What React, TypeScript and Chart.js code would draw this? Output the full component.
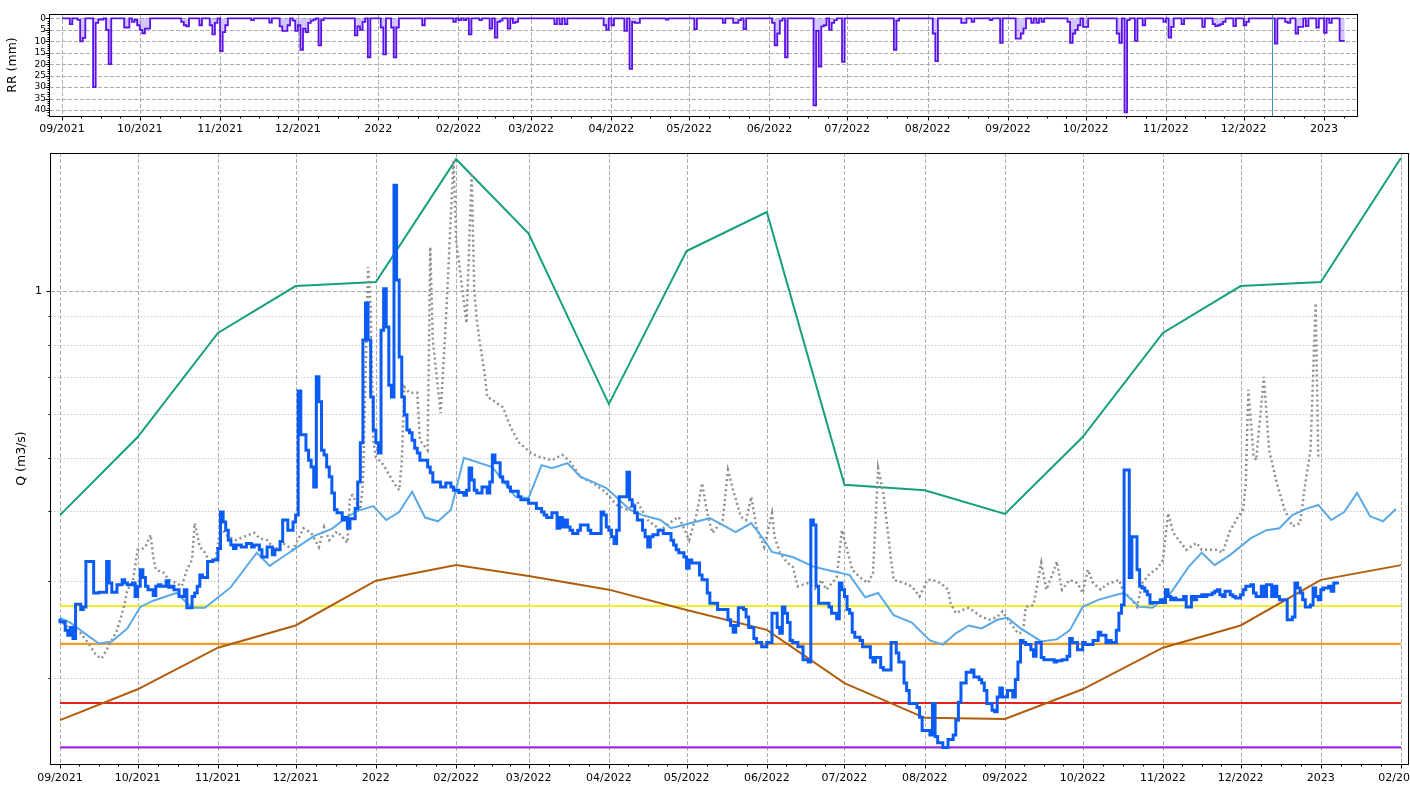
import React, { useEffect, useRef } from 'react';
import { Chart, registerables } from 'chart.js';

Chart.register(...registerables);

const FONT = "'DejaVu Sans', 'Liberation Sans', sans-serif";

// x values everywhere are days since 1 Sep 2021
const monthStartDays = [0, 30, 61, 91, 122, 153, 181, 212, 242, 273, 303, 334, 365, 395, 426, 456, 487, 518];
const monthTickLabels = ['09/2021', '10/2021', '11/2021', '12/2021', '2022', '02/2022', '03/2022', '04/2022', '05/2022', '06/2022', '07/2022', '08/2022', '09/2022', '10/2022', '11/2022', '12/2022', '2023', '02/2023'];
const monthEdgesForMinor = [-31, ...monthStartDays, 546];

// rainfall (mm), days with rain only
const rainDay = [4, 7, 8, 9, 13, 14, 15, 16, 18, 19, 25, 26, 28, 29, 30, 31, 32, 33, 34, 47, 48, 49, 54, 58, 59, 60, 62, 63, 64, 74, 81, 85, 86, 87, 88, 90, 91, 92, 93, 94, 95, 96, 97, 98, 100, 101, 114, 115, 116, 117, 119, 124, 125, 128, 129, 130, 140, 152, 154, 156, 158, 162, 166, 168, 169, 170, 173, 175, 176, 191, 193, 195, 210, 211, 213, 218, 220, 221, 222, 223, 234, 245, 256, 260, 261, 262, 264, 275, 276, 277, 278, 280, 291, 292, 293, 294, 295, 297, 298, 299, 302, 322, 323, 337, 338, 348, 349, 352, 359, 363, 369, 370, 371, 372, 375, 377, 379, 389, 390, 391, 392, 393, 395, 396, 408, 409, 411, 412, 415, 418, 426, 428, 429, 433, 441, 445, 446, 447, 448, 449, 453, 457, 458, 469, 473, 474, 477, 478, 479, 481, 485, 488, 490, 494];
const rainMm = [2.5, 0.7, 10, 8.5, 30, 2, 0.5, 0.5, 5, 20, 4, 4, 1.5, 0.7, 3, 5, 6.5, 4.5, 4.5, 1.5, 3, 3.5, 3, 3, 7, 2, 14.3, 6, 3, 0.8, 1.8, 3.5, 5.5, 5.5, 3, 1, 5.5, 3, 13.7, 4.5, 6, 2, 1, 0.5, 11.8, 0.8, 7.4, 3.5, 5, 1.5, 17, 4, 15.7, 4, 17, 4, 3, 1.5, 0.8, 0.8, 7, 0.8, 4.5, 8.4, 1.5, 1, 4.5, 2, 1.5, 2.5, 2.5, 2.5, 3, 5, 3, 5.5, 22, 1.5, 2, 2, 0.5, 4.7, 2, 2, 2, 0.8, 4.7, 2, 11.8, 6.6, 1, 17, 38, 5.5, 21, 3.5, 3, 5, 2, 0.8, 19, 13.7, 1, 6.6, 18.7, 2, 2, 1.5, 0.8, 10.7, 8.8, 8.8, 6.6, 4.4, 2, 2, 1.5, 1.5, 10.7, 6.6, 5, 3, 3.7, 3.7, 6.6, 10.7, 41, 0.8, 9.8, 3, 1.5, 8.4, 3.7, 2.5, 3.7, 2.5, 3.4, 3, 2.5, 1.5, 3.4, 3, 1.5, 11, 1.5, 2, 6.6, 3.7, 3.7, 3.4, 4, 6.3, 2, 9.8];
const rainFirstDay = 0;
const rainLastDay = 495;
const rainTicks = [0, 5, 10, 15, 20, 25, 30, 35, 40];
const markerDay = 467; // vertical marker in the rain panel

// observed daily discharge (m3/s)
const obsDay = [0, 2, 3, 4, 5, 6, 8, 9, 10, 13, 15, 18, 19, 20, 22, 24, 25, 26, 28, 29, 30, 31, 32, 33, 34, 36, 37, 38, 39, 41, 42, 43, 44, 46, 48, 49, 51, 52, 53, 54, 55, 57, 59, 61, 62, 63, 64, 65, 66, 67, 68, 70, 72, 74, 75, 77, 78, 80, 82, 83, 85, 86, 88, 90, 91, 92, 93, 95, 96, 97, 98, 99, 100, 101, 102, 103, 104, 105, 106, 107, 109, 110, 111, 112, 114, 115, 116, 117, 118, 119, 120, 121, 122, 123, 124, 125, 126, 127, 128, 129, 130, 131, 132, 133, 134, 135, 136, 137, 138, 139, 142, 143, 144, 147, 149, 151, 152, 154, 156, 157, 158, 159, 160, 161, 163, 165, 166, 167, 168, 170, 171, 173, 174, 177, 178, 181, 184, 186, 187, 188, 190, 192, 193, 194, 195, 196, 197, 198, 200, 201, 204, 205, 209, 210, 211, 212, 213, 214, 215, 216, 219, 220, 221, 222, 223, 225, 226, 227, 228, 229, 231, 233, 236, 237, 238, 239, 241, 242, 243, 244, 247, 248, 250, 251, 254, 255, 258, 259, 260, 261, 262, 264, 265, 266, 268, 269, 271, 273, 275, 277, 278, 279, 280, 281, 282, 283, 285, 287, 289, 290, 291, 292, 293, 294, 297, 298, 300, 301, 302, 303, 304, 305, 306, 307, 309, 310, 311, 313, 314, 315, 317, 318, 321, 322, 323, 324, 326, 327, 328, 331, 332, 333, 336, 337, 338, 339, 341, 343, 345, 346, 347, 348, 350, 352, 353, 355, 356, 357, 358, 360, 361, 362, 363, 364, 366, 368, 369, 370, 371, 372, 373, 375, 376, 377, 379, 380, 384, 385, 387, 389, 390, 391, 392, 393, 395, 396, 399, 401, 402, 404, 405, 406, 408, 409, 410, 411, 412, 413, 414, 415, 416, 417, 418, 419, 420, 421, 422, 425, 426, 427, 428, 429, 430, 431, 434, 435, 437, 438, 439, 441, 442, 443, 445, 446, 447, 448, 449, 450, 452, 453, 454, 456, 457, 458, 460, 461, 462, 464, 465, 466, 468, 469, 470, 471, 474, 476, 477, 478, 479, 480, 481, 483, 484, 485, 486, 487, 488, 490, 491, 492, 493, 494];
const obsQ = [0.256, 0.253, 0.244, 0.239, 0.247, 0.236, 0.272, 0.266, 0.269, 0.325, 0.285, 0.286, 0.325, 0.297, 0.286, 0.295, 0.301, 0.297, 0.295, 0.297, 0.281, 0.293, 0.314, 0.304, 0.293, 0.289, 0.282, 0.293, 0.295, 0.293, 0.3, 0.292, 0.293, 0.289, 0.281, 0.289, 0.268, 0.281, 0.285, 0.293, 0.307, 0.304, 0.325, 0.327, 0.343, 0.399, 0.383, 0.37, 0.355, 0.348, 0.343, 0.348, 0.345, 0.35, 0.345, 0.348, 0.341, 0.331, 0.345, 0.334, 0.341, 0.353, 0.386, 0.37, 0.383, 0.394, 0.66, 0.55, 0.516, 0.495, 0.481, 0.443, 0.7, 0.631, 0.516, 0.506, 0.481, 0.462, 0.432, 0.403, 0.398, 0.386, 0.39, 0.373, 0.388, 0.405, 0.452, 0.532, 0.816, 0.951, 0.816, 0.644, 0.561, 0.532, 0.51, 0.85, 1.01, 0.861, 0.676, 0.644, 1.553, 1.047, 0.76, 0.644, 0.598, 0.561, 0.555, 0.538, 0.52, 0.51, 0.495, 0.481, 0.47, 0.452, 0.443, 0.45, 0.443, 0.437, 0.433, 0.428, 0.437, 0.479, 0.456, 0.437, 0.432, 0.443, 0.432, 0.452, 0.506, 0.49, 0.462, 0.452, 0.443, 0.435, 0.425, 0.42, 0.414, 0.405, 0.399, 0.394, 0.39, 0.398, 0.373, 0.39, 0.375, 0.386, 0.375, 0.37, 0.365, 0.37, 0.378, 0.37, 0.365, 0.399, 0.394, 0.375, 0.37, 0.36, 0.35, 0.37, 0.425, 0.471, 0.42, 0.409, 0.398, 0.386, 0.37, 0.36, 0.345, 0.36, 0.363, 0.37, 0.365, 0.355, 0.348, 0.341, 0.337, 0.331, 0.316, 0.327, 0.323, 0.307, 0.301, 0.285, 0.273, 0.266, 0.266, 0.255, 0.249, 0.242, 0.249, 0.268, 0.266, 0.258, 0.247, 0.236, 0.232, 0.228, 0.232, 0.262, 0.247, 0.241, 0.269, 0.262, 0.252, 0.234, 0.232, 0.228, 0.216, 0.214, 0.386, 0.378, 0.293, 0.273, 0.273, 0.269, 0.262, 0.256, 0.297, 0.289, 0.281, 0.266, 0.262, 0.242, 0.237, 0.234, 0.228, 0.228, 0.218, 0.214, 0.218, 0.209, 0.207, 0.232, 0.232, 0.222, 0.214, 0.196, 0.19, 0.18, 0.177, 0.17, 0.161, 0.158, 0.18, 0.157, 0.153, 0.15, 0.155, 0.158, 0.168, 0.181, 0.196, 0.205, 0.207, 0.201, 0.199, 0.196, 0.19, 0.18, 0.175, 0.174, 0.185, 0.192, 0.185, 0.19, 0.185, 0.199, 0.214, 0.234, 0.232, 0.23, 0.225, 0.219, 0.232, 0.218, 0.216, 0.214, 0.215, 0.216, 0.219, 0.236, 0.232, 0.232, 0.225, 0.232, 0.23, 0.234, 0.242, 0.239, 0.232, 0.234, 0.232, 0.244, 0.262, 0.271, 0.475, 0.475, 0.304, 0.36, 0.36, 0.314, 0.293, 0.291, 0.287, 0.283, 0.273, 0.274, 0.277, 0.274, 0.289, 0.281, 0.277, 0.279, 0.277, 0.281, 0.269, 0.281, 0.277, 0.281, 0.283, 0.281, 0.283, 0.285, 0.287, 0.289, 0.283, 0.281, 0.287, 0.283, 0.281, 0.279, 0.283, 0.289, 0.293, 0.295, 0.285, 0.281, 0.293, 0.281, 0.295, 0.281, 0.293, 0.281, 0.277, 0.255, 0.258, 0.297, 0.291, 0.285, 0.277, 0.269, 0.271, 0.291, 0.281, 0.277, 0.289, 0.291, 0.293, 0.287, 0.297, 0.297];

// smoothed mean discharge (light blue)
const meanDay = [0, 4, 9, 15, 20, 26, 31, 36, 45, 51, 56, 66, 76, 81, 86, 93, 98, 105, 111, 115, 121, 126, 131, 136, 141, 146, 151, 156, 167, 176, 181, 186, 190, 196, 201, 206, 211, 216, 220, 225, 232, 236, 251, 261, 267, 272, 275, 283, 291, 296, 305, 311, 316, 322, 329, 336, 341, 346, 351, 356, 362, 366, 371, 379, 385, 390, 395, 401, 408, 411, 417, 422, 429, 436, 441, 446, 452, 460, 466, 471, 476, 481, 486, 491, 496, 501, 506, 511, 516];
const meanQ = [0.257, 0.252, 0.242, 0.231, 0.233, 0.246, 0.269, 0.276, 0.285, 0.268, 0.268, 0.292, 0.337, 0.319, 0.331, 0.348, 0.361, 0.372, 0.391, 0.401, 0.409, 0.386, 0.399, 0.434, 0.39, 0.384, 0.403, 0.5, 0.481, 0.425, 0.423, 0.485, 0.479, 0.489, 0.462, 0.452, 0.441, 0.42, 0.403, 0.394, 0.386, 0.373, 0.389, 0.367, 0.381, 0.355, 0.338, 0.331, 0.318, 0.314, 0.307, 0.28, 0.285, 0.26, 0.252, 0.234, 0.23, 0.241, 0.249, 0.246, 0.255, 0.257, 0.246, 0.233, 0.235, 0.244, 0.269, 0.277, 0.283, 0.285, 0.269, 0.268, 0.285, 0.318, 0.337, 0.32, 0.334, 0.358, 0.37, 0.373, 0.394, 0.404, 0.411, 0.386, 0.399, 0.432, 0.392, 0.384, 0.404];

// simulated discharge (grey dotted)
const simDay = [1, 3, 8, 11, 14, 16, 18, 20, 22, 24, 25, 26, 28, 30, 31, 33, 35, 36, 37, 40, 42, 45, 47, 49, 51, 52, 54, 56, 58, 60, 62, 65, 68, 71, 75, 77, 80, 83, 86, 90, 94, 97, 100, 102, 104, 107, 109, 111, 112, 113, 116, 117, 119, 120, 121, 122, 125, 129, 131, 132, 133, 135, 138, 139, 142, 143, 144, 147, 149, 152, 153, 154, 157, 159, 160, 161, 162, 164, 165, 167, 171, 174, 177, 182, 185, 190, 194, 197, 201, 206, 211, 215, 219, 223, 227, 232, 237, 239, 243, 246, 248, 250, 252, 256, 258, 260, 263, 265, 267, 269, 272, 275, 276, 278, 281, 283, 285, 289, 292, 294, 296, 300, 302, 304, 306, 309, 312, 314, 316, 318, 321, 322, 326, 329, 332, 335, 337, 340, 343, 344, 346, 349, 351, 354, 356, 359, 362, 364, 367, 370, 372, 373, 376, 379, 381, 384, 385, 387, 390, 393, 395, 397, 399, 402, 404, 409, 411, 413, 416, 418, 421, 424, 426, 428, 430, 433, 435, 439, 441, 444, 447, 449, 452, 455, 457, 458, 459, 461, 462, 465, 467, 470, 473, 476, 479, 481, 483, 485, 486];
const simQ = [0.252, 0.247, 0.241, 0.231, 0.22, 0.217, 0.225, 0.234, 0.244, 0.262, 0.273, 0.289, 0.297, 0.341, 0.341, 0.345, 0.363, 0.331, 0.314, 0.31, 0.301, 0.297, 0.293, 0.314, 0.327, 0.381, 0.345, 0.337, 0.323, 0.327, 0.373, 0.36, 0.355, 0.36, 0.366, 0.358, 0.355, 0.341, 0.351, 0.341, 0.373, 0.366, 0.345, 0.375, 0.355, 0.368, 0.36, 0.351, 0.425, 0.428, 0.403, 0.45, 1.105, 0.936, 0.538, 0.502, 0.485, 0.45, 0.437, 0.49, 0.671, 0.655, 0.655, 0.538, 0.516, 1.201, 0.816, 0.602, 0.875, 1.724, 1.236, 1.138, 0.875, 1.633, 1.004, 0.886, 0.816, 0.711, 0.644, 0.636, 0.617, 0.569, 0.534, 0.51, 0.502, 0.495, 0.506, 0.492, 0.462, 0.45, 0.432, 0.411, 0.403, 0.416, 0.386, 0.37, 0.386, 0.391, 0.355, 0.397, 0.45, 0.397, 0.366, 0.386, 0.475, 0.437, 0.391, 0.386, 0.425, 0.375, 0.345, 0.397, 0.36, 0.337, 0.323, 0.318, 0.293, 0.297, 0.289, 0.301, 0.289, 0.304, 0.37, 0.341, 0.314, 0.304, 0.297, 0.309, 0.479, 0.432, 0.327, 0.301, 0.297, 0.293, 0.281, 0.301, 0.301, 0.297, 0.289, 0.273, 0.262, 0.266, 0.268, 0.262, 0.258, 0.255, 0.258, 0.264, 0.252, 0.241, 0.242, 0.269, 0.271, 0.323, 0.289, 0.314, 0.325, 0.289, 0.301, 0.297, 0.285, 0.314, 0.297, 0.289, 0.295, 0.301, 0.285, 0.281, 0.269, 0.297, 0.309, 0.316, 0.327, 0.397, 0.366, 0.351, 0.341, 0.351, 0.341, 0.341, 0.341, 0.337, 0.37, 0.391, 0.403, 0.45, 0.663, 0.506, 0.495, 0.7, 0.516, 0.45, 0.403, 0.376, 0.381, 0.45, 0.516, 0.951, 0.502];

// monthly envelope (green = high, brown = low), at month starts
const monthlyHighQ = [0.394, 0.545, 0.84, 1.021, 1.038, 1.73, 1.27, 0.625, 1.181, 1.389, 0.447, 0.437, 0.396, 0.545, 0.84, 1.021, 1.038, 1.74];
const monthlyLowQ = [0.168, 0.191, 0.227, 0.249, 0.3, 0.32, 0.306, 0.289, 0.2655, 0.2445, 0.196, 0.1696, 0.1688, 0.191, 0.227, 0.249, 0.301, 0.32];

// threshold levels
const thresholdQ = [0.27, 0.2306, 0.1804, 0.15];
const thresholdColors = ['#f2ee2c', '#ef9e22', '#e4211d', '#a02ee0'];

const qMajorTicks = [1];
const qMinorTicks = [0.2, 0.3, 0.4, 0.5, 0.6, 0.7, 0.8, 0.9];

function minorBetween(edges: number[]) {
  const out: number[] = [];
  for (let i = 0; i < edges.length - 1; i++) {
    for (let k = 1; k < 4; k++) out.push(edges[i] + ((edges[i + 1] - edges[i]) * k) / 4);
  }
  return out;
}

type Deco = {
  xMajor: number[];
  xMinor: number[];
  yMajorGrid: number[];
  yMinorGrid: number[];
  yMajorTicks: number[];
  yMinorTicks: number[];
  yTitle: string;
  yTitleX: number;
  vLines?: { value: number; color: string }[];
};

function makeDeco(d: Deco) {
  const inRange = (s: any, v: number) => v >= Math.min(s.min, s.max) && v <= Math.max(s.min, s.max);
  return {
    id: 'deco',
    beforeDatasetsDraw(chart: any) {
      const { ctx, chartArea: a } = chart;
      const xs = chart.scales.x;
      const ys = chart.scales.y;
      ctx.save();
      ctx.beginPath();
      ctx.rect(a.left, a.top, a.right - a.left, a.bottom - a.top);
      ctx.clip();
      ctx.lineWidth = 1;
      ctx.strokeStyle = '#bdbdbd';
      ctx.setLineDash([1.2, 2]);
      for (const v of d.yMinorGrid) {
        if (!inRange(ys, v)) continue;
        const p = Math.round(ys.getPixelForValue(v)) + 0.5;
        ctx.beginPath(); ctx.moveTo(a.left, p); ctx.lineTo(a.right, p); ctx.stroke();
      }
      ctx.strokeStyle = '#ababab';
      ctx.setLineDash([4, 2]);
      for (const v of d.yMajorGrid) {
        if (!inRange(ys, v)) continue;
        const p = Math.round(ys.getPixelForValue(v)) + 0.5;
        ctx.beginPath(); ctx.moveTo(a.left, p); ctx.lineTo(a.right, p); ctx.stroke();
      }
      for (const v of d.xMajor) {
        if (!inRange(xs, v)) continue;
        const p = Math.round(xs.getPixelForValue(v)) + 0.5;
        ctx.beginPath(); ctx.moveTo(p, a.top); ctx.lineTo(p, a.bottom); ctx.stroke();
      }
      ctx.restore();
    },
    afterDatasetsDraw(chart: any) {
      if (!d.vLines) return;
      const { ctx, chartArea: a } = chart;
      const xs = chart.scales.x;
      ctx.save();
      for (const l of d.vLines) {
        const p = Math.round(xs.getPixelForValue(l.value)) + 0.5;
        ctx.strokeStyle = l.color;
        ctx.lineWidth = 1;
        ctx.beginPath(); ctx.moveTo(p, a.top); ctx.lineTo(p, a.bottom); ctx.stroke();
      }
      ctx.restore();
    },
    afterDraw(chart: any) {
      const { ctx, chartArea: a } = chart;
      const xs = chart.scales.x;
      const ys = chart.scales.y;
      ctx.save();
      ctx.strokeStyle = '#000';
      ctx.lineWidth = 1;
      ctx.setLineDash([]);
      const L = Math.round(a.left) - 0.5;
      const R = Math.round(a.right) - 0.5;
      const T = Math.round(a.top) + 0.5;
      const B = Math.round(a.bottom) + 0.5;
      ctx.strokeRect(L, T, R - L, B - T);
      ctx.beginPath();
      for (const v of d.xMajor) {
        if (!inRange(xs, v)) continue;
        const p = Math.round(xs.getPixelForValue(v)) + 0.5;
        ctx.moveTo(p, B); ctx.lineTo(p, B + 4);
      }
      for (const v of d.xMinor) {
        if (!inRange(xs, v)) continue;
        const p = Math.round(xs.getPixelForValue(v)) + 0.5;
        ctx.moveTo(p, B); ctx.lineTo(p, B + 2);
      }
      for (const v of d.yMajorTicks) {
        if (!inRange(ys, v)) continue;
        const p = Math.round(ys.getPixelForValue(v)) + 0.5;
        ctx.moveTo(L, p); ctx.lineTo(L - 4, p);
      }
      for (const v of d.yMinorTicks) {
        if (!inRange(ys, v)) continue;
        const p = Math.round(ys.getPixelForValue(v)) + 0.5;
        ctx.moveTo(L, p); ctx.lineTo(L - 2, p);
      }
      ctx.stroke();
      ctx.translate(d.yTitleX, (a.top + a.bottom) / 2);
      ctx.rotate(-Math.PI / 2);
      ctx.fillStyle = '#000';
      ctx.font = `12.5px ${FONT}`;
      ctx.textAlign = 'center';
      ctx.textBaseline = 'middle';
      ctx.fillText(d.yTitle, 0, 0);
      ctx.restore();
    },
  };
}

function xAxis(min: number, max: number, height: number, padding: number) {
  return {
    type: 'linear' as const,
    min,
    max,
    bounds: 'data' as const,
    grid: { display: false, drawTicks: false, tickLength: 0 },
    border: { display: false },
    afterBuildTicks: (s: any) => {
      s.ticks = monthStartDays.filter((v) => v >= min && v <= max).map((v) => ({ value: v }));
    },
    afterFit: (s: any) => {
      s.height = height;
      s.paddingLeft = 0;
      s.paddingRight = 0;
    },
    ticks: {
      autoSkip: false,
      maxRotation: 0,
      minRotation: 0,
      padding,
      color: '#000',
      font: { family: FONT, size: 11 },
      callback: (v: any) => {
        const i = monthStartDays.indexOf(Number(v));
        return i >= 0 ? monthTickLabels[i] : '';
      },
    },
  };
}

const pts = (xs: number[], ys: number[]) => xs.map((x, i) => ({ x, y: ys[i] }));

export default function App() {
  const topRef = useRef<HTMLCanvasElement>(null);
  const botRef = useRef<HTMLCanvasElement>(null);

  useEffect(() => {
    // ---------- rainfall panel ----------
    const rainMap = new Map<number, number>();
    rainDay.forEach((d, i) => rainMap.set(d, rainMm[i]));
    const rainPts: { x: number; y: number }[] = [];
    for (let d = rainFirstDay; d <= rainLastDay; d++) {
      let v = rainMap.has(d) ? (rainMap.get(d) as number) : 0;
      if (d === rainLastDay && !rainMap.has(d) && rainMap.has(d - 1)) v = rainMap.get(d - 1) as number;
      rainPts.push({ x: d, y: v });
    }

    const rainMinorTicks: number[] = [];
    for (let v = 0; v <= 42; v++) if (v % 5 !== 0) rainMinorTicks.push(v);

    const topChart = new Chart(topRef.current as HTMLCanvasElement, {
      type: 'line',
      data: {
        datasets: [
          {
            data: rainPts,
            borderColor: '#5a12e8',
            backgroundColor: 'rgba(130, 95, 250, 0.35)',
            borderWidth: 1.8,
            stepped: 'after',
            pointRadius: 0,
            fill: { value: 0 },
          },
        ],
      },
      options: {
        responsive: false,
        animation: false,
        devicePixelRatio: 1,
        events: [],
        layout: { padding: { top: 14, right: 52, left: 0, bottom: 0 } },
        plugins: { legend: { display: false }, tooltip: { enabled: false } },
        scales: {
          x: xAxis(-4.63, 500.1, 22, 7),
          y: {
            type: 'linear',
            reverse: true,
            min: -1.9,
            max: 42.6,
            bounds: 'data',
            grid: { display: false, drawTicks: false, tickLength: 0 },
            border: { display: false },
            afterBuildTicks: (s: any) => {
              s.ticks = rainTicks.map((v) => ({ value: v }));
            },
            afterFit: (s: any) => {
              s.width = 50;
              s.paddingTop = 0;
              s.paddingBottom = 0;
            },
            ticks: {
              autoSkip: false,
              padding: 4,
              color: '#000',
              font: { family: FONT, size: 9, lineHeight: 1 },
              callback: (v: any) => String(v),
            },
          },
        },
      },
      plugins: [
        makeDeco({
          xMajor: monthStartDays,
          xMinor: minorBetween(monthEdgesForMinor),
          yMajorGrid: rainTicks,
          yMinorGrid: [],
          yMajorTicks: rainTicks,
          yMinorTicks: rainMinorTicks,
          yTitle: 'RR (mm)',
          yTitleX: 13,
          vLines: [{ value: markerDay, color: '#4b8fa8' }],
        }),
      ],
    });

    // ---------- discharge panel ----------
    const span = [monthStartDays[0], monthStartDays[monthStartDays.length - 1]];
    const thresholdSets = thresholdQ.map((q, i) => ({
      data: [
        { x: span[0], y: q },
        { x: span[1], y: q },
      ],
      borderColor: thresholdColors[i],
      borderWidth: 2.2,
      pointRadius: 0,
      fill: false,
    }));

    const botChart = new Chart(botRef.current as HTMLCanvasElement, {
      type: 'line',
      data: {
        datasets: [
          {
            data: pts(obsDay, obsQ),
            borderColor: '#0a5cf5',
            borderWidth: 3,
            stepped: 'after',
            pointRadius: 0,
            fill: false,
            borderJoinStyle: 'miter',
          },
          {
            data: pts(meanDay, meanQ),
            borderColor: '#5aa9e6',
            borderWidth: 2,
            pointRadius: 0,
            fill: false,
          },
          {
            data: pts(simDay, simQ),
            borderColor: '#8e8e8e',
            borderWidth: 2.5,
            borderDash: [2, 3],
            pointRadius: 0,
            fill: false,
          },
          {
            data: pts(monthStartDays, monthlyHighQ),
            borderColor: '#15a07c',
            borderWidth: 2,
            pointRadius: 0,
            fill: false,
          },
          {
            data: pts(monthStartDays, monthlyLowQ),
            borderColor: '#b15d0e',
            borderWidth: 2,
            pointRadius: 0,
            fill: false,
          },
          ...thresholdSets,
        ] as any,
      },
      options: {
        responsive: false,
        animation: false,
        devicePixelRatio: 1,
        events: [],
        layout: { padding: { top: 15, right: 1, left: 0, bottom: 0 } },
        plugins: { legend: { display: false }, tooltip: { enabled: false } },
        scales: {
          x: xAxis(-3.48, 521.05, 21, 8),
          y: {
            type: 'logarithmic',
            min: 0.14,
            max: 1.775,
            bounds: 'data',
            grid: { display: false, drawTicks: false, tickLength: 0 },
            border: { display: false },
            afterBuildTicks: (s: any) => {
              s.ticks = qMajorTicks.map((v) => ({ value: v }));
            },
            afterFit: (s: any) => {
              s.width = 51;
              s.paddingTop = 0;
              s.paddingBottom = 0;
            },
            ticks: {
              autoSkip: false,
              padding: 9,
              color: '#000',
              font: { family: FONT, size: 11 },
              callback: (v: any) => String(v),
            },
          },
        },
      },
      plugins: [
        makeDeco({
          xMajor: monthStartDays,
          xMinor: minorBetween(monthEdgesForMinor),
          yMajorGrid: qMajorTicks,
          yMinorGrid: qMinorTicks,
          yMajorTicks: qMajorTicks,
          yMinorTicks: qMinorTicks,
          yTitle: 'Q (m3/s)',
          yTitleX: 22,
        }),
      ],
    });

    return () => {
      topChart.destroy();
      botChart.destroy();
    };
  }, []);

  return (
    <div style={{ position: 'fixed', left: 0, top: 0, width: 1410, height: 785, background: '#fff', overflow: 'hidden' }}>
      <canvas ref={topRef} width={1410} height={138} style={{ position: 'absolute', left: 0, top: 0 }} />
      <canvas ref={botRef} width={1410} height={647} style={{ position: 'absolute', left: 0, top: 138 }} />
    </div>
  );
}
